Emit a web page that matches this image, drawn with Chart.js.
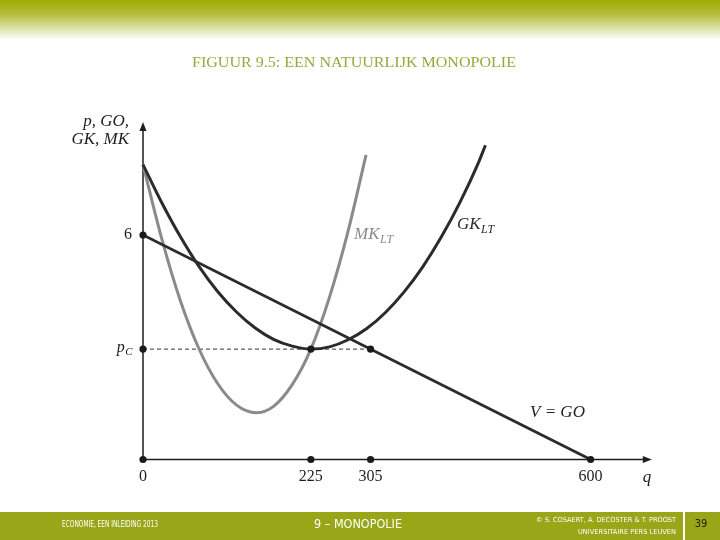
<!DOCTYPE html>
<html><head><meta charset="utf-8">
<script src="https://cdn.jsdelivr.net/npm/chart.js@4/dist/chart.umd.min.js"></script>
<style>html,body{margin:0;padding:0;background:#fff}#wrap{width:720px;height:540px;position:relative}</style>
</head><body><div id="wrap"><canvas id="c" width="720" height="540"></canvas></div>
<script>
// ---- data ----
const demandQ = [0, 600];
const demandP = [6, 0];
const gkQ = [0, 25, 50, 75, 100, 125, 150, 175, 200, 225, 250, 275, 300, 325, 350, 375, 400, 425, 450, 459];
const gkP = [7.88, 6.87, 5.96, 5.16, 4.49, 3.95, 3.52, 3.21, 3.03, 2.95, 3.01, 3.2, 3.5, 3.93, 4.48, 5.15, 5.95, 6.88, 7.95, 8.4];
const mkQ = [0, 25, 50, 75, 100, 125, 152, 175, 200, 225, 250, 275, 299];
const mkP = [7.88, 5.91, 4.25, 2.96, 2.03, 1.46, 1.25, 1.42, 2.0, 2.95, 4.34, 6.11, 8.14];
const pcLineQ = [0, 305];
const pcLineP = [2.95, 2.95];
const keyQ = [0, 0, 0, 225, 305, 600, 225, 305];
const keyP = [0, 6, 2.95, 0, 0, 0, 2.95, 2.95];
const xTickValues = [0, 225, 305, 600];
const xTickLabels = ['0', '225', '305', '600'];
const yTickValues = [6, 2.95];
const yTickLabels = ['6', 'pC'];
const Q_MAX = 682, P_MAX = 9.02;

const pts = (xs, ys) => xs.map((x, i) => ({x: x, y: ys[i]}));

const SERIF = '"Liberation Serif", "DejaVu Serif", serif';

function fitText(ctx, text, x, y, width, font, color, align) {
  ctx.save();
  ctx.font = font;
  ctx.fillStyle = color;
  ctx.textBaseline = 'middle';
  const w = ctx.measureText(text).width;
  const s = width / w;
  let left = align === 'center' ? x - width / 2 : (align === 'right' ? x - width : x);
  ctx.translate(left, y);
  ctx.scale(s, 1);
  ctx.textAlign = 'left';
  ctx.fillText(text, 0, 0);
  ctx.restore();
}

function subText(ctx, main, sub, x, y, size, color, align) {
  ctx.save();
  ctx.fillStyle = color;
  ctx.textBaseline = 'middle';
  ctx.textAlign = 'left';
  const f1 = 'italic ' + size + 'px ' + SERIF;
  const f2 = 'italic ' + Math.round(size * 0.68) + 'px ' + SERIF;
  ctx.font = f1; const w1 = ctx.measureText(main).width;
  ctx.font = f2; const w2 = ctx.measureText(sub).width;
  let left = align === 'right' ? x - w1 - w2 : x;
  ctx.font = f1; ctx.fillText(main, left, y);
  ctx.font = f2; ctx.fillText(sub, left + w1 + 0.5, y + size * 0.28);
  ctx.restore();
}

const decor = {
  id: 'decor',
  beforeDraw(chart) {
    const ctx = chart.ctx;
    ctx.save();
    ctx.fillStyle = '#ffffff';
    ctx.fillRect(0, 0, 720, 540);
    const g = ctx.createLinearGradient(0, 0, 0, 40);
    g.addColorStop(0, '#9dab00');
    g.addColorStop(0.35, '#b3be3a');
    g.addColorStop(1, '#ffffff');
    ctx.fillStyle = g;
    ctx.fillRect(0, 0, 720, 40);
    ctx.fillStyle = '#98a617';
    ctx.fillRect(0, 512, 720, 28);
    ctx.fillStyle = '#ffffff';
    ctx.fillRect(683, 512, 2, 28);
    ctx.restore();
  },
  beforeDatasetsDraw(chart) {
    const ctx = chart.ctx;
    const xs = chart.scales.x, ys = chart.scales.y;
    const x0 = xs.getPixelForValue(0), y0 = ys.getPixelForValue(0);
    const xr = xs.getPixelForValue(Q_MAX), yt = ys.getPixelForValue(P_MAX);
    ctx.save();
    ctx.strokeStyle = '#1e1e1e';
    ctx.fillStyle = '#1e1e1e';
    ctx.lineWidth = 1.5;
    ctx.beginPath();
    ctx.moveTo(x0, y0); ctx.lineTo(x0, yt + 6);
    ctx.moveTo(x0, y0); ctx.lineTo(xr - 6, y0);
    ctx.stroke();
    ctx.beginPath();
    ctx.moveTo(x0, yt); ctx.lineTo(x0 - 3.5, yt + 9); ctx.lineTo(x0 + 3.5, yt + 9); ctx.closePath();
    ctx.fill();
    ctx.beginPath();
    ctx.moveTo(xr, y0); ctx.lineTo(xr - 9, y0 - 3.5); ctx.lineTo(xr - 9, y0 + 3.5); ctx.closePath();
    ctx.fill();
    ctx.restore();
  },
  afterDraw(chart) {
    const ctx = chart.ctx;
    const xs = chart.scales.x, ys = chart.scales.y;
    const X = v => xs.getPixelForValue(v), Y = v => ys.getPixelForValue(v);
    // title
    fitText(ctx, 'FIGUUR 9.5: EEN NATUURLIJK MONOPOLIE', 354, 63, 324, '15px ' + SERIF, '#9ca63c', 'center');
    // tick labels
    ctx.save();
    ctx.fillStyle = '#1e1e1e';
    ctx.font = '16px ' + SERIF;
    ctx.textAlign = 'center';
    ctx.textBaseline = 'middle';
    xTickValues.forEach((v, i) => ctx.fillText(xTickLabels[i], X(v), 477));
    ctx.textAlign = 'right';
    ctx.fillText(yTickLabels[0], 132, Y(yTickValues[0]));
    ctx.restore();
    subText(ctx, 'p', 'C', 132, Y(yTickValues[1]) - 1, 16, '#1e1e1e', 'right');
    // axis titles
    ctx.save();
    ctx.fillStyle = '#1e1e1e';
    ctx.font = 'italic 17px ' + SERIF;
    ctx.textAlign = 'right';
    ctx.textBaseline = 'middle';
    ctx.fillText('p, GO,', 129, 122);
    ctx.fillText('GK, MK', 129, 140);
    ctx.textAlign = 'center';
    ctx.fillText('q', 647, 478);
    ctx.textAlign = 'left';
    ctx.fillText('V = GO', 530, 413);
    ctx.restore();
    subText(ctx, 'MK', 'LT', 354, 235, 17, '#8a8a8a', 'left');
    subText(ctx, 'GK', 'LT', 457, 225, 17, '#2a2a2a', 'left');
    // footer
    fitText(ctx, 'ECONOMIE, EEN INLEIDING 2013', 110, 525, 96, '8px "DejaVu Sans Condensed", "DejaVu Sans", sans-serif', '#ffffff', 'center');
    fitText(ctx, '9 \u2013 MONOPOLIE', 358, 525, 88, '12px "DejaVu Sans Condensed", "DejaVu Sans", sans-serif', '#ffffff', 'center');
    fitText(ctx, '\u00A9 S. COSAERT, A. DECOSTER & T. PROOST', 676, 520, 140, '7px "DejaVu Sans Condensed", "DejaVu Sans", sans-serif', '#ffffff', 'right');
    fitText(ctx, 'UNIVERSITAIRE PERS LEUVEN', 676, 532, 98, '7px "DejaVu Sans Condensed", "DejaVu Sans", sans-serif', '#ffffff', 'right');
    ctx.save();
    ctx.fillStyle = '#1e1e1e';
    ctx.font = '11px "DejaVu Sans Condensed", "DejaVu Sans", sans-serif';
    ctx.textAlign = 'center';
    ctx.textBaseline = 'middle';
    ctx.fillText('39', 701, 524);
    ctx.restore();
  }
};

new Chart(document.getElementById('c'), {
  type: 'scatter',
  data: {
    datasets: [
      { label: 'punten', data: pts(keyQ, keyP), showLine: false, pointRadius: 3.6, pointHoverRadius: 3.6,
        backgroundColor: '#1a1a1a', borderWidth: 0, clip: false, order: 0 },
      { label: 'V = GO', data: pts(demandQ, demandP), showLine: true, borderColor: '#2b2b2b', borderWidth: 2.8,
        pointRadius: 0, order: 1 },
      { label: 'GK_LT', data: pts(gkQ, gkP), showLine: true, borderColor: '#2b2b2b', borderWidth: 3,
        pointRadius: 0, cubicInterpolationMode: 'monotone', order: 2, clip: false },
      { label: 'MK_LT', data: pts(mkQ, mkP), showLine: true, borderColor: '#8a8a8a', borderWidth: 3,
        pointRadius: 0, cubicInterpolationMode: 'monotone', order: 3, clip: false },
      { label: 'pC', data: pts(pcLineQ, pcLineP), showLine: true, borderColor: '#333333', borderWidth: 1,
        borderDash: [4, 3], pointRadius: 0, order: 4 }
    ]
  },
  options: {
    responsive: false,
    animation: false,
    events: [],
    layout: { padding: { left: 143, right: 720 - 651.8, top: 122, bottom: 540 - 459.5 } },
    plugins: { legend: { display: false }, tooltip: { enabled: false } },
    scales: {
      x: { type: 'linear', min: 0, max: Q_MAX, display: false },
      y: { type: 'linear', min: 0, max: P_MAX, display: false }
    }
  },
  plugins: [decor]
});
</script>
</body></html>
